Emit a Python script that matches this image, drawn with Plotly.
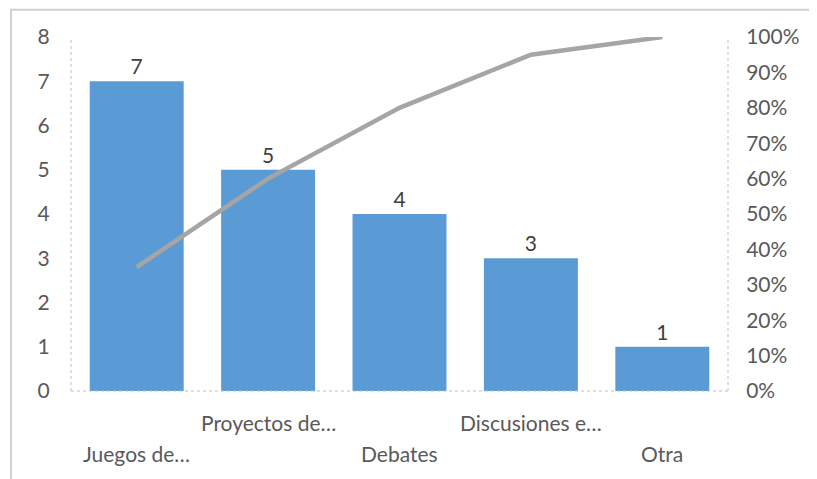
import plotly.graph_objects as go

categories = ["Juegos de…", "Proyectos de…", "Debates", "Discusiones e…", "Otra"]
counts = [7, 5, 4, 3, 1]
cumulative_pct = [35, 60, 80, 95, 100]
label_row = [1, 0, 1, 0, 1]  # staggered category labels: 0 = upper row, 1 = lower row

text_color = "#595959"
font_family = "Lato, 'Open Sans', sans-serif"

fig = go.Figure()
fig.add_trace(
    go.Bar(
        x=categories,
        y=counts,
        marker=dict(color="#5B9BD5", line=dict(width=0)),
        text=[str(c) for c in counts],
        textposition="outside",
        textfont=dict(size=21, color="#404040", family=font_family),
        cliponaxis=False,
        showlegend=False,
    )
)
fig.add_trace(
    go.Scatter(
        x=categories,
        y=cumulative_pct,
        yaxis="y2",
        mode="lines",
        line=dict(color="#A5A5A5", width=4.5),
        showlegend=False,
    )
)

for cat, row in zip(categories, label_row):
    fig.add_annotation(
        x=cat,
        y=0,
        xref="x",
        yref="y",
        text=cat,
        showarrow=False,
        yanchor="middle",
        yshift=-31 if row == 0 else -62,
        font=dict(size=21, color=text_color, family=font_family),
    )

# chart frame and dotted axis lines
fig.add_shape(
    type="rect", xref="paper", yref="paper",
    x0=-0.0913, x1=1.3, y0=-0.4, y1=1.077,
    line=dict(color="#D0D0D0", width=2), layer="below",
)
for x0, y0, x1, y1 in [(0, 0, 0, 1), (1, 0, 1, 1), (0, 0, 1, 0)]:
    fig.add_shape(
        type="line", xref="paper", yref="paper",
        x0=x0, y0=y0, x1=x1, y1=y1,
        line=dict(color="#BFBFBF", width=1, dash="dot"),
    )

fig.update_layout(
    width=817,
    height=479,
    margin=dict(l=63, r=97, t=29, b=96),
    plot_bgcolor="white",
    paper_bgcolor="white",
    bargap=0.285,
    font=dict(family=font_family, color=text_color),
    xaxis=dict(showticklabels=False, showgrid=False, zeroline=False, showline=False),
    yaxis=dict(
        range=[0, 8],
        dtick=1,
        showgrid=False,
        zeroline=False,
        showline=False,
        automargin=False,
        ticks="outside",
        ticklen=16,
        tickcolor="rgba(0,0,0,0)",
        tickfont=dict(size=21, color=text_color),
    ),
    yaxis2=dict(
        overlaying="y",
        side="right",
        range=[0, 100],
        dtick=10,
        ticksuffix="%",
        showgrid=False,
        zeroline=False,
        showline=False,
        automargin=False,
        ticks="outside",
        ticklen=13,
        tickcolor="rgba(0,0,0,0)",
        tickfont=dict(size=21, color=text_color),
    ),
)

fig.write_html("out.html")
